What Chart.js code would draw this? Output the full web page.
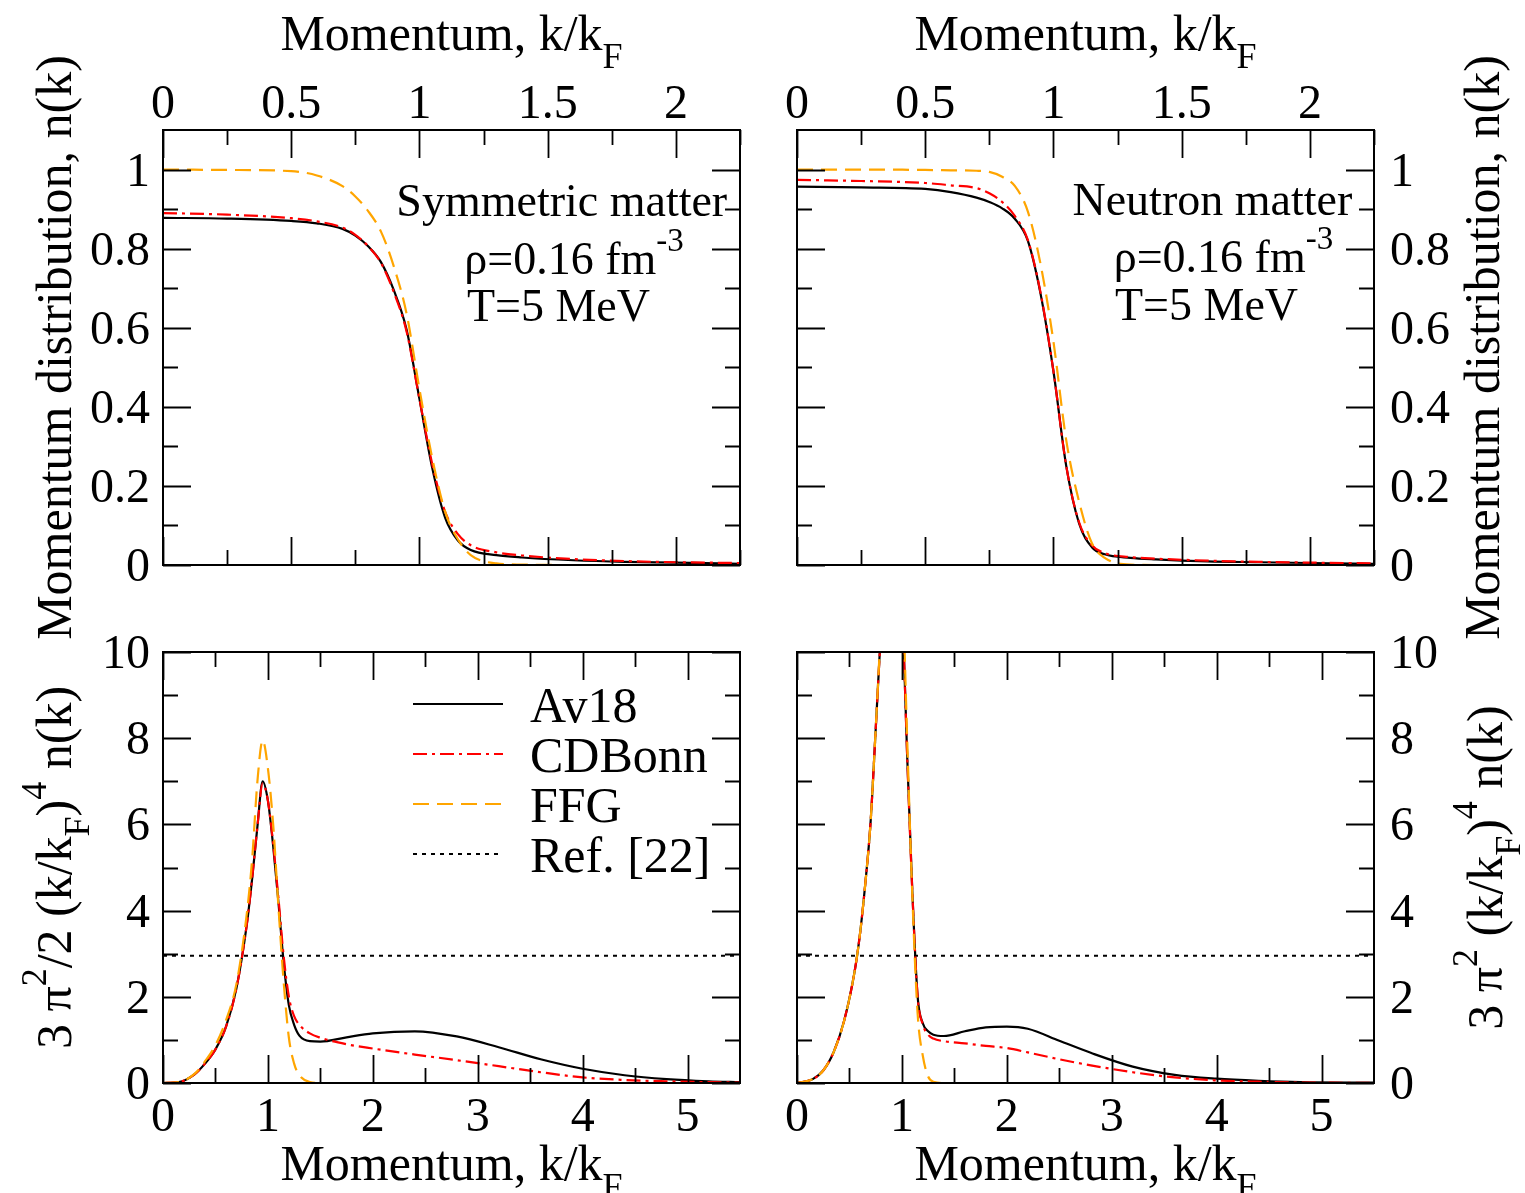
<!DOCTYPE html>
<html>
<head>
<meta charset="utf-8">
<title>Momentum distribution n(k)</title>
<script src="https://cdn.jsdelivr.net/npm/chart.js@4.4.1/dist/chart.umd.min.js"></script>
<style>
  body { margin: 0; background: #fff; }
  canvas { position: absolute; left: 0; top: 0; }
</style>
</head>
<body>
<canvas id="tl" width="1525" height="1193"></canvas>
<canvas id="tr" width="1525" height="1193"></canvas>
<canvas id="bl" width="1525" height="1193"></canvas>
<canvas id="br" width="1525" height="1193"></canvas>
<script>
// ---- datos ----
// paneles superiores: n(k) frente a k/kF
const topK = [0, 0.25, 0.5, 0.6, 0.7, 0.75, 0.8, 0.85, 0.9, 0.95, 1.0, 1.05, 1.1, 1.15, 1.2, 1.3, 1.4, 1.6, 1.8, 2.0, 2.25];

const symAv18   = [0.878, 0.876, 0.870, 0.864, 0.850, 0.833, 0.806, 0.766, 0.695, 0.595, 0.42, 0.245, 0.12, 0.062, 0.038, 0.025, 0.019, 0.012, 0.008, 0.006, 0.003];
const symCDBonn = [0.890, 0.886, 0.877, 0.869, 0.853, 0.835, 0.806, 0.764, 0.690, 0.590, 0.42, 0.255, 0.135, 0.078, 0.050, 0.032, 0.024, 0.015, 0.010, 0.007, 0.005];
const symFFG    = [1.0, 0.999, 0.996, 0.985, 0.958, 0.932, 0.895, 0.843, 0.755, 0.635, 0.445, 0.27, 0.135, 0.065, 0.025, 0.004, 0.001, 0, 0, 0, 0];

const neuAv18   = [0.957, 0.955, 0.951, 0.943, 0.929, 0.918, 0.902, 0.875, 0.82, 0.685, 0.49, 0.25, 0.105, 0.045, 0.027, 0.018, 0.014, 0.009, 0.007, 0.005, 0.003];
const neuCDBonn = [0.974, 0.971, 0.966, 0.960, 0.953, 0.940, 0.918, 0.882, 0.822, 0.688, 0.49, 0.25, 0.108, 0.05, 0.03, 0.02, 0.016, 0.011, 0.008, 0.006, 0.004];
const neuFFG    = [1.0, 1.0, 0.999, 0.998, 0.997, 0.994, 0.982, 0.958, 0.894, 0.76, 0.565, 0.315, 0.16, 0.055, 0.018, 0.001, 0, 0, 0, 0, 0];

// paneles inferiores: 3 pi^2/2 (k/kF)^4 n(k)
const botSymK = [0, 0.15, 0.3, 0.4, 0.5, 0.6, 0.7, 0.8, 0.85, 0.9, 0.95, 1.0, 1.05, 1.1, 1.15, 1.2, 1.25, 1.3, 1.4, 1.5, 1.75, 2.0, 2.4, 2.8, 3.2, 3.6, 4.0, 4.4, 4.8, 5.2, 5.5];
const bsAv18   = [0, 0.02, 0.2, 0.45, 0.78, 1.3, 2.2, 3.7, 4.75, 5.95, 7.0, 6.55, 5.5, 4.2, 2.8, 1.8, 1.35, 1.1, 0.97, 0.96, 1.06, 1.15, 1.2, 1.08, 0.83, 0.55, 0.33, 0.18, 0.09, 0.04, 0.02];
const bsCDBonn = [0, 0.02, 0.2, 0.45, 0.78, 1.3, 2.2, 3.7, 4.75, 5.95, 6.95, 6.55, 5.55, 4.3, 2.95, 2.0, 1.55, 1.35, 1.15, 1.05, 0.9, 0.8, 0.66, 0.53, 0.39, 0.25, 0.13, 0.07, 0.04, 0.02, 0.01];
const bsFFG    = [0, 0.02, 0.21, 0.5, 0.88, 1.45, 2.3, 3.95, 5.2, 7.0, 7.95, 7.3, 6.0, 4.1, 2.35, 1.05, 0.45, 0.18, 0.02, 0, 0, 0, 0, 0, 0, 0, 0, 0, 0, 0, 0];

const botNeuK = [0, 0.15, 0.25, 0.35, 0.45, 0.55, 0.6, 0.65, 0.7, 0.75, 0.8, 0.85, 0.9, 0.95, 1.0, 1.05, 1.1, 1.15, 1.2, 1.25, 1.3, 1.4, 1.6, 1.8, 2.0, 2.2, 2.5, 2.8, 3.2, 3.6, 4.0, 4.4, 4.8, 5.5];
const bnAv18   = [0, 0.09, 0.29, 0.72, 1.45, 2.6, 3.45, 4.6, 6.0, 8.2, 10.5, 12.8, 14.0, 13.6, 11.3, 7.6, 4.4, 2.0, 1.38, 1.2, 1.12, 1.09, 1.2, 1.29, 1.31, 1.26, 0.98, 0.70, 0.38, 0.19, 0.10, 0.05, 0.02, 0.01];
const bnCDBonn = [0, 0.09, 0.29, 0.72, 1.45, 2.6, 3.45, 4.6, 6.0, 8.2, 10.5, 12.8, 14.0, 13.6, 11.3, 7.6, 4.4, 2.0, 1.35, 1.12, 1.03, 0.97, 0.92, 0.86, 0.81, 0.71, 0.55, 0.41, 0.25, 0.13, 0.06, 0.03, 0.01, 0.005];
const bnFFG    = [0, 0.09, 0.29, 0.72, 1.45, 2.6, 3.45, 4.6, 6.0, 8.2, 10.6, 13.0, 14.5, 14.3, 12.0, 8.0, 4.3, 1.6, 0.62, 0.15, 0.03, 0, 0, 0, 0, 0, 0, 0, 0, 0, 0, 0, 0, 0];

// linea horizontal de la Ref. [22]
const refK = [0, 5.5];
const refLevel = [2.95, 2.95];

// ticks
const topXTicks = ['0', '0.5', '1', '1.5', '2'];
const topXMinor = [0.25, 0.75, 1.25, 1.75, 2.25];
const topYTicks = ['0', '0.2', '0.4', '0.6', '0.8', '1'];
const topYMinor = [0.1, 0.3, 0.5, 0.7, 0.9];
const botXTicks = ['0', '1', '2', '3', '4', '5'];
const botXMinor = [0.5, 1.5, 2.5, 3.5, 4.5];
const botYTicks = ['0', '2', '4', '6', '8', '10'];
const botYMinor = [1, 3, 5, 7, 9];

const legendLabels = ['Av18', 'CDBonn', 'FFG', 'Ref. [22]'];

// ---- estilo ----
const W = 1525, H = 1193;
const fuente = s => Math.round(s) + 'px "Liberation Serif", serif';

const estilos = {
    'Av18':      { borderColor: '#000000', borderWidth: 2.2, borderDash: [] },
    'CDBonn':    { borderColor: '#ff0000', borderWidth: 2.2, borderDash: [14, 5, 3, 5] },
    'FFG':       { borderColor: '#ffa500', borderWidth: 2.2, borderDash: [16, 8] },
    'Ref. [22]': { borderColor: '#000000', borderWidth: 2,   borderDash: [4, 5] }
};

const puntos = (ks, vs) => ks.map((k, i) => ({ x: k, y: vs[i] }));

const serie = (label, ks, vs) => ({
    label,
    data: puntos(ks, vs),
    ...estilos[label],
    pointRadius: 0,
    fill: false,
    cubicInterpolationMode: 'monotone'
});

// texto con sub/superindices: [texto, modo] modo 0 normal, 1 sup, -1 sub
const anchoRico = (ctx, segs, size) => {
    let w = 0;
    segs.forEach(([t, m]) => {
        ctx.font = fuente(m ? size * 0.72 : size);
        w += ctx.measureText(t).width;
    });
    return w;
};

const textoRico = (ctx, segs, x, y, size, align) => {
    const w = anchoRico(ctx, segs, size);
    let cx = align === 'center' ? x - w / 2 : align === 'right' ? x - w : x;
    ctx.textAlign = 'left';
    ctx.textBaseline = 'alphabetic';
    segs.forEach(([t, m]) => {
        ctx.font = fuente(m ? size * 0.72 : size);
        const dy = m === 1 ? -size * 0.5 : m === -1 ? size * 0.36 : 0;
        ctx.fillText(t, cx, y + dy);
        cx += ctx.measureText(t).width;
    });
};

const tituloX = [['Momentum, k/k', 0], ['F', -1]];
const tituloN = [['Momentum distribution, n(k)', 0]];
const tituloBL = [['3 \u03c0', 0], ['2', 1], ['/2 (k/k', 0], ['F', -1], [')', 0], ['4', 1], [' n(k)', 0]];
const tituloBR = [['3 \u03c0', 0], ['2', 1], [' (k/k', 0], ['F', -1], [')', 0], ['4', 1], [' n(k)', 0]];
const rho = [['\u03c1=0.16 fm', 0], ['-3', 1]];
const temp = [['T=5 MeV', 0]];

const paneles = {
    tl: { box: [163, 130, 740, 565], xr: [0, 2.25], yr: [0, 1.1], xSide: 'top', ySide: 'left',
          xTicks: topXTicks, xMinor: topXMinor, yTicks: topYTicks, yMinor: topYMinor,
          yTitle: tituloN, yTitleX: 71,
          notas: [[[['Symmetric matter', 0]], 2.2, 0.882, 'right'], [rho, 1.175, 0.735, 'left'], [temp, 1.185, 0.617, 'left']] },
    tr: { box: [797, 130, 1374, 565], xr: [0, 2.25], yr: [0, 1.1], xSide: 'top', ySide: 'right',
          xTicks: topXTicks, xMinor: topXMinor, yTicks: topYTicks, yMinor: topYMinor,
          yTitle: tituloN, yTitleX: 1499,
          notas: [[[['Neutron matter', 0]], 2.165, 0.885, 'right'], [rho, 1.235, 0.74, 'left'], [temp, 1.24, 0.62, 'left']] },
    bl: { box: [163, 652, 740, 1083], xr: [0, 5.5], yr: [0, 10], xSide: 'bottom', ySide: 'left',
          xTicks: botXTicks, xMinor: botXMinor, yTicks: botYTicks, yMinor: botYMinor,
          yTitle: tituloBL, yTitleX: 71, notas: [], leyenda: true },
    br: { box: [797, 652, 1374, 1083], xr: [0, 5.5], yr: [0, 10], xSide: 'bottom', ySide: 'right',
          xTicks: botXTicks, xMinor: botXMinor, yTicks: botYTicks, yMinor: botYMinor,
          yTitle: tituloBR, yTitleX: 1502, notas: [] }
};

// marco, ticks hacia dentro, etiquetas, titulos, notas y leyenda
const pluginPanel = {
    id: 'panel',
    afterDatasetsDraw(chart) {
        const p = paneles[chart.canvas.id];
        const ctx = chart.ctx, a = chart.chartArea;
        const xs = chart.scales.x, ys = chart.scales.y;
        ctx.save();
        ctx.setLineDash([]);
        ctx.strokeStyle = '#000';
        ctx.fillStyle = '#000';

        ctx.lineWidth = 1.8;
        ctx.beginPath();
        const ticksX = (vals, len) => vals.forEach(v => {
            const px = Math.round(xs.getPixelForValue(Number(v))) + 0.5;
            ctx.moveTo(px, a.bottom); ctx.lineTo(px, a.bottom - len);
            ctx.moveTo(px, a.top); ctx.lineTo(px, a.top + len);
        });
        const ticksY = (vals, len) => vals.forEach(v => {
            const py = Math.round(ys.getPixelForValue(Number(v))) + 0.5;
            ctx.moveTo(a.left, py); ctx.lineTo(a.left + len, py);
            ctx.moveTo(a.right, py); ctx.lineTo(a.right - len, py);
        });
        ticksX(p.xTicks, 28); ticksX(p.xMinor, 15);
        ticksY(p.yTicks, 28); ticksY(p.yMinor, 15);
        ctx.stroke();

        ctx.lineWidth = 2;
        ctx.strokeRect(a.left, a.top, a.right - a.left, a.bottom - a.top);

        // etiquetas de los ticks
        ctx.font = fuente(48);
        ctx.textBaseline = 'alphabetic';
        ctx.textAlign = 'center';
        const yLabX = p.xSide === 'top' ? a.top - 12 : a.bottom + 48;
        p.xTicks.forEach(t => ctx.fillText(t, xs.getPixelForValue(Number(t)), yLabX));
        ctx.textAlign = p.ySide === 'left' ? 'right' : 'left';
        const xLab = p.ySide === 'left' ? a.left - 13 : a.right + 16;
        p.yTicks.forEach(t => ctx.fillText(t, xLab, ys.getPixelForValue(Number(t)) + 16));

        // titulos de los ejes
        const cx = (a.left + a.right) / 2;
        textoRico(ctx, tituloX, cx, p.xSide === 'top' ? a.top - 80 : a.bottom + 97, 50, 'center');
        ctx.save();
        ctx.translate(p.yTitleX, (a.top + a.bottom) / 2);
        ctx.rotate(-Math.PI / 2);
        textoRico(ctx, p.yTitle, 0, 0, 50, 'center');
        ctx.restore();

        // notas
        p.notas.forEach(([segs, x, y, al]) => {
            textoRico(ctx, segs, xs.getPixelForValue(x), ys.getPixelForValue(y), 46, al);
        });

        // leyenda
        if (p.leyenda) {
            legendLabels.forEach((lab, i) => {
                const ds = chart.data.datasets.find(d => d.label === lab);
                const y = a.top + 52 + i * 50;
                ctx.strokeStyle = ds.borderColor;
                ctx.lineWidth = ds.borderWidth;
                ctx.setLineDash(ds.borderDash);
                ctx.beginPath();
                ctx.moveTo(a.left + 250, y);
                ctx.lineTo(a.left + 340, y);
                ctx.stroke();
                ctx.setLineDash([]);
                ctx.font = fuente(50);
                ctx.textAlign = 'left';
                ctx.fillText(lab, a.left + 367, y + 18);
            });
        }
        ctx.restore();
    }
};

const crearPanel = (id, datasets) => {
    const p = paneles[id];
    const [l, t, r, b] = p.box;
    return new Chart(document.getElementById(id), {
        type: 'line',
        data: { datasets },
        options: {
            responsive: false,
            animation: false,
            events: [],
            layout: { padding: { left: l, top: t, right: W - r, bottom: H - b } },
            scales: {
                x: { type: 'linear', min: p.xr[0], max: p.xr[1], display: false },
                y: { type: 'linear', min: p.yr[0], max: p.yr[1], display: false }
            },
            plugins: { legend: { display: false }, tooltip: { enabled: false } }
        },
        plugins: [pluginPanel]
    });
};

crearPanel('tl', [
    serie('FFG', topK, symFFG),
    serie('CDBonn', topK, symCDBonn),
    serie('Av18', topK, symAv18)
]);
crearPanel('tr', [
    serie('FFG', topK, neuFFG),
    serie('CDBonn', topK, neuCDBonn),
    serie('Av18', topK, neuAv18)
]);
crearPanel('bl', [
    serie('FFG', botSymK, bsFFG),
    serie('CDBonn', botSymK, bsCDBonn),
    serie('Av18', botSymK, bsAv18),
    serie('Ref. [22]', refK, refLevel)
]);
crearPanel('br', [
    serie('FFG', botNeuK, bnFFG),
    serie('CDBonn', botNeuK, bnCDBonn),
    serie('Av18', botNeuK, bnAv18),
    serie('Ref. [22]', refK, refLevel)
]);
</script>
</body>
</html>
